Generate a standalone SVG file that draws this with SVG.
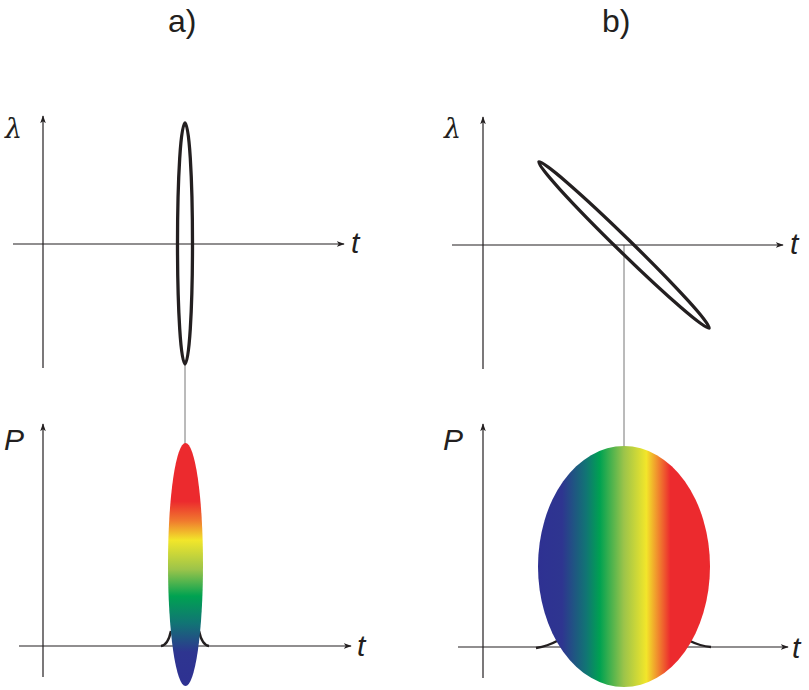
<svg xmlns="http://www.w3.org/2000/svg" width="809" height="690" viewBox="0 0 809 690">
<defs>
<marker id="arr" viewBox="0 0 10 10" refX="9" refY="5" markerWidth="8" markerHeight="8" markerUnits="userSpaceOnUse" orient="auto">
<path d="M0,1.5 L10,5 L0,8.5 L2.5,5 Z" fill="#231f20"/>
</marker>
<linearGradient id="gv" x1="0" y1="0" x2="0" y2="1">
<stop offset="0" stop-color="#ec2a2e"/>
<stop offset="0.24" stop-color="#ec2a2e"/>
<stop offset="0.32" stop-color="#f0792e"/>
<stop offset="0.40" stop-color="#f2e62a"/>
<stop offset="0.52" stop-color="#9cc44a"/>
<stop offset="0.63" stop-color="#00a251"/>
<stop offset="0.74" stop-color="#117574"/>
<stop offset="0.86" stop-color="#2e3590"/>
<stop offset="1" stop-color="#2e3192"/>
</linearGradient>
<linearGradient id="gh" x1="0" y1="0" x2="1" y2="0">
<stop offset="0" stop-color="#2e3192"/>
<stop offset="0.14" stop-color="#2e3590"/>
<stop offset="0.28" stop-color="#117574"/>
<stop offset="0.36" stop-color="#00a251"/>
<stop offset="0.50" stop-color="#9cc44a"/>
<stop offset="0.63" stop-color="#f2e62a"/>
<stop offset="0.71" stop-color="#f0792e"/>
<stop offset="0.77" stop-color="#ec2a2e"/>
<stop offset="1" stop-color="#ec2a2e"/>
</linearGradient>
</defs>
<style>
.ax{stroke:#231f20;stroke-width:1.2;fill:none}
.guide{stroke:#777;stroke-width:1;fill:none}
.ell{stroke:#231f20;stroke-width:3.3;fill:none}
.tail{stroke:#231f20;stroke-width:2.5;fill:none}
.lab{font-family:"Liberation Sans",Arial,sans-serif;font-size:32px;fill:#231f20}
.var{font-family:"Liberation Sans",Arial,sans-serif;font-style:italic;font-size:30px;fill:#231f20}
.lam{font-family:"DejaVu Serif","Liberation Serif",serif;font-style:italic;font-size:27px;fill:#231f20}
</style>

<text class="lab" x="168" y="32">a)</text>
<text class="lab" x="602" y="32">b)</text>

<g id="connectors">
<line class="guide" x1="185" y1="364" x2="185" y2="444"/>
<line class="guide" x1="624" y1="245" x2="624" y2="447"/>
</g>

<g id="a-top">
<line class="ax" x1="43" y1="368" x2="43" y2="116" marker-end="url(#arr)"/>
<line class="ax" x1="13" y1="244" x2="344" y2="244" marker-end="url(#arr)"/>
<text class="lam" x="5" y="138">λ</text>
<text class="var" x="351" y="253">t</text>
<ellipse class="ell" cx="185" cy="243.5" rx="7.5" ry="120.5"/>
</g>

<g id="a-bottom">
<line class="ax" x1="43" y1="677" x2="43" y2="424" marker-end="url(#arr)"/>
<line class="ax" x1="19" y1="646" x2="351" y2="646" marker-end="url(#arr)"/>
<text class="var" x="4" y="450">P</text>
<text class="var" x="357" y="656">t</text>
<path class="tail" d="M161 646 Q168 645 171 631"/>
<path class="tail" d="M209 646 Q202 645 199 631"/>
<ellipse cx="185.5" cy="564.5" rx="17.5" ry="121.5" fill="url(#gv)"/>
</g>

<g id="b-top">
<line class="ax" x1="483" y1="369" x2="483" y2="117" marker-end="url(#arr)"/>
<line class="ax" x1="452" y1="245" x2="783" y2="245" marker-end="url(#arr)"/>
<text class="lam" x="444" y="138">λ</text>
<text class="var" x="790" y="254">t</text>
<ellipse class="ell" cx="624" cy="245" rx="119" ry="7" transform="rotate(44.3 624 245)"/>
</g>

<g id="b-bottom">
<line class="ax" x1="483" y1="678" x2="483" y2="424" marker-end="url(#arr)"/>
<line class="ax" x1="458" y1="647" x2="788" y2="647" marker-end="url(#arr)"/>
<text class="var" x="443" y="450">P</text>
<text class="var" x="792" y="658">t</text>
<path class="tail" d="M536 648 Q548 646 557 641"/>
<path class="tail" d="M690 641 Q700 646 711 647"/>
<ellipse cx="624" cy="566.5" rx="86" ry="120.5" fill="url(#gh)"/>
</g>
</svg>
